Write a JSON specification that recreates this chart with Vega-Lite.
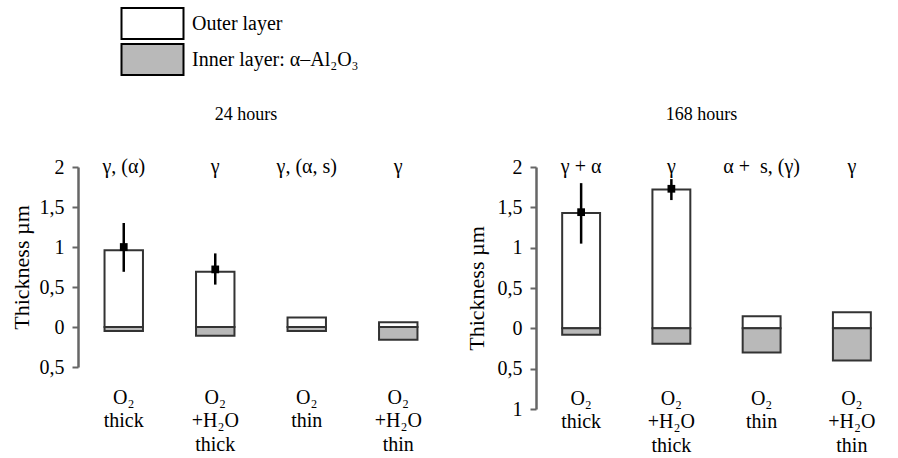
{
  "$schema": "https://vega.github.io/schema/vega-lite/v6.json",
  "padding": {"left": 10, "top": 7, "right": 0, "bottom": 0},
  "background": "white",
  "datasets": {
    "bars": [
      {"time": "24 hours", "cond": "O₂|thick", "layer": "Outer layer", "value": 0.96},
      {"time": "24 hours", "cond": "O₂|thick", "layer": "Inner layer: α–Al₂O₃", "value": -0.05},
      {"time": "24 hours", "cond": "O₂|+H₂O|thick", "layer": "Outer layer", "value": 0.69},
      {"time": "24 hours", "cond": "O₂|+H₂O|thick", "layer": "Inner layer: α–Al₂O₃", "value": -0.11},
      {"time": "24 hours", "cond": "O₂|thin", "layer": "Outer layer", "value": 0.12},
      {"time": "24 hours", "cond": "O₂|thin", "layer": "Inner layer: α–Al₂O₃", "value": -0.05},
      {"time": "24 hours", "cond": "O₂|+H₂O|thin", "layer": "Outer layer", "value": 0.06},
      {"time": "24 hours", "cond": "O₂|+H₂O|thin", "layer": "Inner layer: α–Al₂O₃", "value": -0.16},
      {"time": "168 hours", "cond": "O₂|thick", "layer": "Outer layer", "value": 1.43},
      {"time": "168 hours", "cond": "O₂|thick", "layer": "Inner layer: α–Al₂O₃", "value": -0.08},
      {"time": "168 hours", "cond": "O₂|+H₂O|thick", "layer": "Outer layer", "value": 1.72},
      {"time": "168 hours", "cond": "O₂|+H₂O|thick", "layer": "Inner layer: α–Al₂O₃", "value": -0.19},
      {"time": "168 hours", "cond": "O₂|thin", "layer": "Outer layer", "value": 0.15},
      {"time": "168 hours", "cond": "O₂|thin", "layer": "Inner layer: α–Al₂O₃", "value": -0.30},
      {"time": "168 hours", "cond": "O₂|+H₂O|thin", "layer": "Outer layer", "value": 0.20},
      {"time": "168 hours", "cond": "O₂|+H₂O|thin", "layer": "Inner layer: α–Al₂O₃", "value": -0.40}
    ],
    "errors": [
      {"time": "24 hours", "cond": "O₂|thick", "mean": 1.0, "lo": 0.69, "hi": 1.3},
      {"time": "24 hours", "cond": "O₂|+H₂O|thick", "mean": 0.72, "lo": 0.53, "hi": 0.92},
      {"time": "168 hours", "cond": "O₂|thick", "mean": 1.44, "lo": 1.05, "hi": 1.8},
      {"time": "168 hours", "cond": "O₂|+H₂O|thick", "mean": 1.73, "lo": 1.59, "hi": 1.85}
    ],
    "phases": [
      {"time": "24 hours", "cond": "O₂|thick", "phase": "γ, (α)"},
      {"time": "24 hours", "cond": "O₂|+H₂O|thick", "phase": "γ"},
      {"time": "24 hours", "cond": "O₂|thin", "phase": "γ, (α, s)"},
      {"time": "24 hours", "cond": "O₂|+H₂O|thin", "phase": "γ"},
      {"time": "168 hours", "cond": "O₂|thick", "phase": "γ + α"},
      {"time": "168 hours", "cond": "O₂|+H₂O|thick", "phase": "γ"},
      {"time": "168 hours", "cond": "O₂|thin", "phase": "α + \u00a0s, (γ)"},
      {"time": "168 hours", "cond": "O₂|+H₂O|thin", "phase": "γ"}
    ]
  },
  "config": {
    "font": "Liberation Serif",
    "view": {"stroke": null},
    "axis": {"grid": false, "labelFont": "Liberation Serif", "titleFont": "Liberation Serif", "labelColor": "black", "titleColor": "black", "titleFontWeight": "normal", "labelOverlap": false},
    "axisY": {"labelOverlap": false},
    "axisQuantitative": {"labelOverlap": false},
    "title": {"font": "Liberation Serif", "fontSize": 18, "fontWeight": "normal", "color": "black"},
    "legend": {
      "orient": "none", "legendX": 58, "legendY": -160, "title": null,
      "symbolType": "M-2,-1H2V1H-2Z", "symbolSize": 961,
      "symbolStrokeColor": "black", "symbolStrokeWidth": 2, "symbolOpacity": 1,
      "rowPadding": -12, "labelFont": "Liberation Serif", "labelFontSize": 20,
      "labelColor": "black", "labelOffset": 23, "labelLimit": 0
    }
  },
  "spacing": 21,
  "hconcat": [
    {
      "title": {"text": "24 hours", "offset": 33, "dx": -15},
      "width": 366,
      "height": 200,
      "layer": [
        {
          "data": {"name": "bars"},
          "transform": [{"filter": "datum.time === '24 hours'"}],
          "mark": {"type": "bar", "stroke": "#333", "strokeWidth": 2},
          "encoding": {
            "x": {"field": "cond", "type": "nominal", "sort": ["O₂|thick", "O₂|+H₂O|thick", "O₂|thin", "O₂|+H₂O|thin"],
                  "scale": {"paddingInner": 0.58, "paddingOuter": 0.29},
                  "axis": {"title": null, "domain": false, "ticks": false, "labelAngle": 0, "labelExpr": "split(datum.label, '|')", "labelFontSize": 20, "labelLineHeight": 23.5, "labelPadding": 20, "labelBaseline": "top"}},
            "y": {"field": "value", "type": "quantitative", "stack": null,
                  "scale": {"domain": [-0.5, 2], "nice": false, "zero": false},
                  "axis": {"title": "Thickness µm", "titleFontSize": 22, "titlePadding": 6, "tickCount": 5, "labelOverlap": false,
                           "labelExpr": "replace(format(abs(datum.value), '.1~f'), '.', ',')", "labelFontSize": 20,
                           "domainColor": "#666", "domainWidth": 2.5, "tickColor": "#666", "tickWidth": 2, "tickSize": 6, "labelPadding": 8}},
            "color": {"field": "layer", "type": "nominal",
                      "scale": {"domain": ["Outer layer", "Inner layer: α–Al₂O₃"], "range": ["white", "#b9b9b9"]}}
          }
        },
        {
          "mark": {"type": "rule", "color": "#444", "strokeWidth": 1.5},
          "encoding": {"y": {"datum": 0}}
        },
        {
          "data": {"name": "errors"},
          "transform": [{"filter": "datum.time === '24 hours'"}],
          "mark": {"type": "rule", "color": "black", "strokeWidth": 2.5},
          "encoding": {
            "x": {"field": "cond", "type": "nominal", "sort": ["O₂|thick", "O₂|+H₂O|thick", "O₂|thin", "O₂|+H₂O|thin"]},
            "y": {"field": "lo", "type": "quantitative"},
            "y2": {"field": "hi"}
          }
        },
        {
          "data": {"name": "errors"},
          "transform": [{"filter": "datum.time === '24 hours'"}],
          "mark": {"type": "square", "color": "black", "filled": true, "size": 60, "opacity": 1},
          "encoding": {
            "x": {"field": "cond", "type": "nominal", "sort": ["O₂|thick", "O₂|+H₂O|thick", "O₂|thin", "O₂|+H₂O|thin"]},
            "y": {"field": "mean", "type": "quantitative"}
          }
        },
        {
          "data": {"name": "phases"},
          "transform": [{"filter": "datum.time === '24 hours'"}],
          "mark": {"type": "text", "fontSize": 20, "font": "Liberation Serif", "baseline": "middle", "color": "black"},
          "encoding": {
            "x": {"field": "cond", "type": "nominal", "sort": ["O₂|thick", "O₂|+H₂O|thick", "O₂|thin", "O₂|+H₂O|thin"]},
            "y": {"datum": 2},
            "text": {"field": "phase"}
          }
        }
      ]
    },
    {
      "title": {"text": "168 hours", "offset": 33, "dx": -15},
      "width": 361,
      "height": 242,
      "layer": [
        {
          "data": {"name": "bars"},
          "transform": [{"filter": "datum.time === '168 hours'"}],
          "mark": {"type": "bar", "stroke": "#333", "strokeWidth": 2},
          "encoding": {
            "x": {"field": "cond", "type": "nominal", "sort": ["O₂|thick", "O₂|+H₂O|thick", "O₂|thin", "O₂|+H₂O|thin"],
                  "scale": {"paddingInner": 0.58, "paddingOuter": 0.29},
                  "axis": {"title": null, "domain": false, "ticks": false, "labelAngle": 0, "labelExpr": "split(datum.label, '|')", "labelFontSize": 20, "labelLineHeight": 23.5, "labelPadding": 0, "offset": -21, "labelBaseline": "top"}},
            "y": {"field": "value", "type": "quantitative", "stack": null,
                  "scale": {"domain": [-1, 2], "nice": false, "zero": false},
                  "axis": {"title": "Thickness µm", "titleFontSize": 22, "titlePadding": 9, "tickCount": 6, "labelOverlap": false,
                           "labelExpr": "replace(format(abs(datum.value), '.1~f'), '.', ',')", "labelFontSize": 20,
                           "domainColor": "#666", "domainWidth": 2.5, "tickColor": "#666", "tickWidth": 2, "tickSize": 6, "labelPadding": 8}},
            "color": {"field": "layer", "type": "nominal",
                      "scale": {"domain": ["Outer layer", "Inner layer: α–Al₂O₃"], "range": ["white", "#b9b9b9"]}}
          }
        },
        {
          "mark": {"type": "rule", "color": "#444", "strokeWidth": 1.5},
          "encoding": {"y": {"datum": 0}}
        },
        {
          "data": {"name": "errors"},
          "transform": [{"filter": "datum.time === '168 hours'"}],
          "mark": {"type": "rule", "color": "black", "strokeWidth": 2.5},
          "encoding": {
            "x": {"field": "cond", "type": "nominal", "sort": ["O₂|thick", "O₂|+H₂O|thick", "O₂|thin", "O₂|+H₂O|thin"]},
            "y": {"field": "lo", "type": "quantitative"},
            "y2": {"field": "hi"}
          }
        },
        {
          "data": {"name": "errors"},
          "transform": [{"filter": "datum.time === '168 hours'"}],
          "mark": {"type": "square", "color": "black", "filled": true, "size": 60, "opacity": 1},
          "encoding": {
            "x": {"field": "cond", "type": "nominal", "sort": ["O₂|thick", "O₂|+H₂O|thick", "O₂|thin", "O₂|+H₂O|thin"]},
            "y": {"field": "mean", "type": "quantitative"}
          }
        },
        {
          "data": {"name": "phases"},
          "transform": [{"filter": "datum.time === '168 hours'"}],
          "mark": {"type": "text", "fontSize": 20, "font": "Liberation Serif", "baseline": "middle", "color": "black"},
          "encoding": {
            "x": {"field": "cond", "type": "nominal", "sort": ["O₂|thick", "O₂|+H₂O|thick", "O₂|thin", "O₂|+H₂O|thin"]},
            "y": {"datum": 2},
            "text": {"field": "phase"}
          }
        }
      ]
    }
  ]
}
